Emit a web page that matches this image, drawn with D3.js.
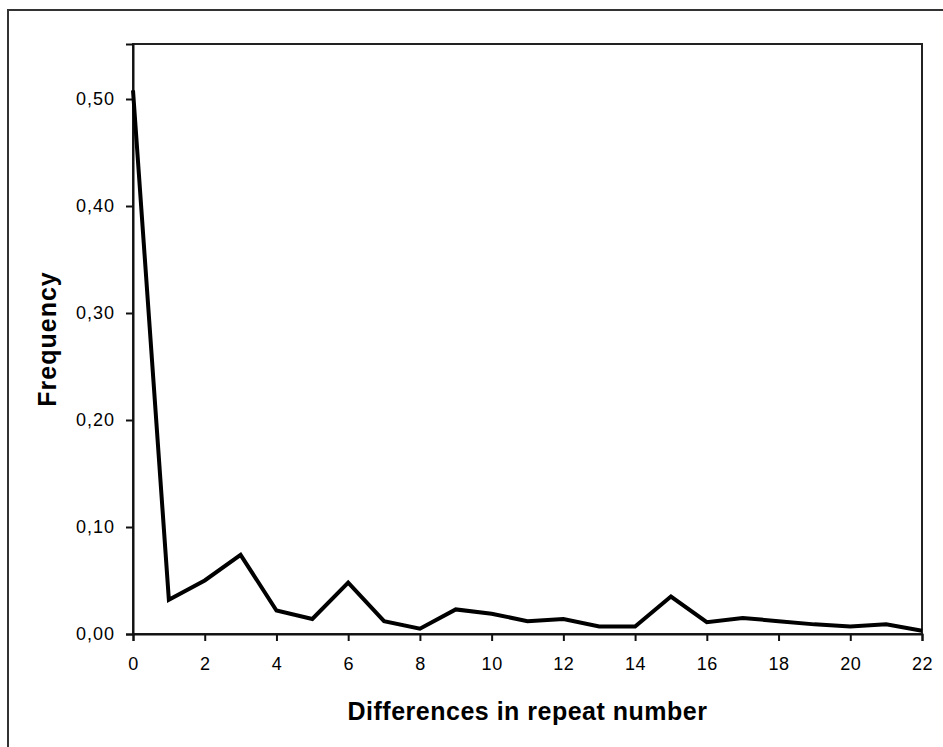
<!DOCTYPE html>
<html>
<head>
<meta charset="utf-8">
<script src="https://cdn.jsdelivr.net/npm/d3@7"></script>
<style>
  html, body { margin: 0; padding: 0; background: #fff; }
  svg { display: block; }
  text { font-family: "Liberation Sans", Arial, sans-serif; fill: #000; }
</style>
</head>
<body>
<svg id="chart" width="943" height="747"></svg>
<script>
// Differences in repeat number (0..22) and their observed frequency
const differences = [0, 1, 2, 3, 4, 5, 6, 7, 8, 9, 10, 11, 12, 13, 14, 15, 16, 17, 18, 19, 20, 21, 22];
const frequency = [0.508, 0.032, 0.050, 0.074, 0.022, 0.014, 0.048, 0.012, 0.005, 0.023, 0.019, 0.012, 0.014, 0.007, 0.007, 0.035, 0.011, 0.015, 0.012, 0.009, 0.007, 0.009, 0.003];
const xTicks = [0, 2, 4, 6, 8, 10, 12, 14, 16, 18, 20, 22];
const yTicks = [0, 0.1, 0.2, 0.3, 0.4, 0.5];

const svg = d3.select("#chart");
const plot = { left: 133, top: 44, right: 922, bottom: 634 };

// Outer chart frame (runs off the right and bottom edges)
svg.append("rect")
  .attr("x", 8).attr("y", 10)
  .attr("width", 960).attr("height", 760)
  .attr("fill", "none").attr("stroke", "#333").attr("stroke-width", 2);

const x = d3.scaleLinear().domain([0, 22]).range([plot.left, plot.right]);
const y = d3.scaleLinear().domain([0, 0.5514]).range([plot.bottom, plot.top]);

// Plot area border
svg.append("rect")
  .attr("x", plot.left).attr("y", plot.top)
  .attr("width", plot.right - plot.left).attr("height", plot.bottom - plot.top)
  .attr("fill", "none").attr("stroke", "#222").attr("stroke-width", 2);

const fmt = v => d3.format(".2f")(v).replace(".", ",");

const yAxis = svg.append("g")
  .attr("transform", `translate(${plot.left},0)`)
  .call(d3.axisLeft(y).tickValues(yTicks).tickFormat(fmt).tickSize(7).tickPadding(11));
yAxis.selectAll("text").style("font-size", "18px").attr("letter-spacing", "1px");

const xAxis = svg.append("g")
  .attr("transform", `translate(0,${plot.bottom})`)
  .call(d3.axisBottom(x).tickValues(xTicks).tickFormat(d3.format("d")).tickSize(7).tickPadding(16));
xAxis.selectAll("text").style("font-size", "18px").attr("letter-spacing", "0.5px");

[yAxis, xAxis].forEach(g => {
  g.select(".domain").attr("stroke", "#111").attr("stroke-width", 2);
  g.selectAll(".tick line").attr("stroke", "#111").attr("stroke-width", 2);
});

// Frequency line
const line = d3.line()
  .x((d, i) => x(differences[i]))
  .y(d => y(d));

svg.append("path")
  .datum(frequency)
  .attr("d", line)
  .attr("fill", "none")
  .attr("stroke", "#000")
  .attr("stroke-width", 4)
  .attr("stroke-linejoin", "miter");

// Axis titles
svg.append("text")
  .attr("x", (plot.left + plot.right) / 2)
  .attr("y", 720)
  .attr("text-anchor", "middle")
  .attr("letter-spacing", "0.5px")
  .style("font-size", "25px")
  .style("font-weight", "bold")
  .text("Differences in repeat number");

svg.append("text")
  .attr("transform", `translate(56,${(plot.top + plot.bottom) / 2}) rotate(-90)`)
  .attr("text-anchor", "middle")
  .attr("letter-spacing", "1px")
  .style("font-size", "25px")
  .style("font-weight", "bold")
  .text("Frequency");
</script>
</body>
</html>
